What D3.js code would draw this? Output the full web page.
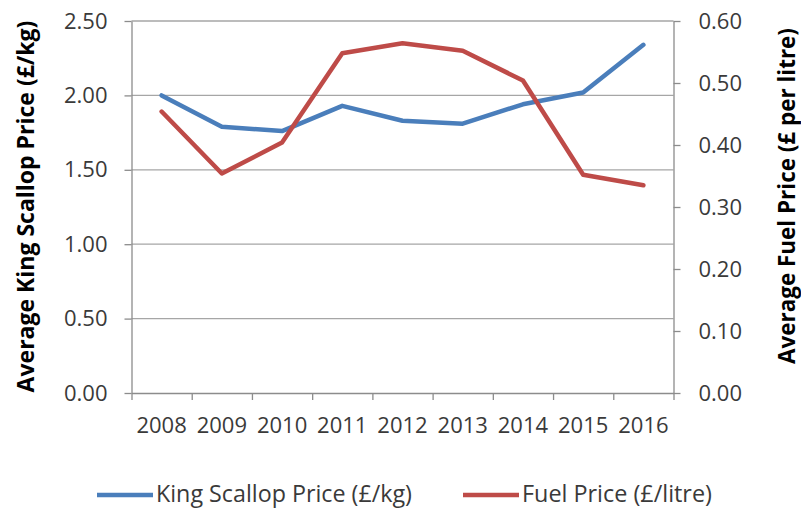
<!DOCTYPE html>
<html>
<head>
<meta charset="utf-8">
<script src="https://cdn.jsdelivr.net/npm/d3@7"></script>
<style>
  html, body { margin: 0; padding: 0; background: #fff; }
  svg { display: block; }
  text { font-family: "Open Sans", "Noto Sans", sans-serif; }
</style>
</head>
<body>
<svg id="chart" width="801" height="509"></svg>
<script>
// Years on the category axis
const years = ["2008", "2009", "2010", "2011", "2012", "2013", "2014", "2015", "2016"];
// Average king scallop price, £/kg (left axis)
const scallopPrice = [2.00, 1.79, 1.76, 1.93, 1.83, 1.81, 1.94, 2.02, 2.34];
// Average fuel price, £ per litre (right axis)
const fuelPrice = [0.454, 0.354, 0.404, 0.548, 0.564, 0.552, 0.504, 0.352, 0.335];
// Tick values for the two value axes
const leftTicks = [0, 0.5, 1.0, 1.5, 2.0, 2.5];
const rightTicks = [0, 0.1, 0.2, 0.3, 0.4, 0.5, 0.6];
// Series names for the legend
const seriesNames = ["King Scallop Price (£/kg)", "Fuel Price (£/litre)"];

const W = 801, H = 509;
const plot = { left: 131.5, right: 673.5, top: 21, bottom: 393 };
const blue = "#4a7ebb", red = "#be4b48";
const gridColor = "#a6a6a6", axisColor = "#8c8c8c", tickText = "#3a3a3a";

const svg = d3.select("#chart");

const x = d3.scaleBand().domain(years).range([plot.left, plot.right]).padding(0);
const xEdges = d3.scaleLinear().domain([0, years.length]).range([plot.left, plot.right]);
const yL = d3.scaleLinear().domain([0, 2.5]).range([plot.bottom, plot.top]);
const yR = d3.scaleLinear().domain([0, 0.6]).range([plot.bottom, plot.top]);

// Horizontal gridlines at the left-axis ticks
svg.append("g")
  .selectAll("line")
  .data(leftTicks.filter(d => d > 0))
  .join("line")
  .attr("x1", plot.left).attr("x2", plot.right)
  .attr("y1", d => yL(d)).attr("y2", d => yL(d))
  .attr("stroke", gridColor).attr("stroke-width", 1.3);

function styleAxis(g) {
  g.selectAll(".domain").attr("stroke", axisColor).attr("stroke-width", 1.3);
  g.selectAll(".tick line").attr("stroke", axisColor).attr("stroke-width", 1.3);
  g.selectAll(".tick text")
    .attr("fill", tickText)
    .style("font-size", "22px")
    .style("font-family", "'Open Sans', sans-serif");
}

// Left value axis
svg.append("g")
  .attr("transform", `translate(${plot.left},0)`)
  .call(d3.axisLeft(yL).tickValues(leftTicks).tickFormat(d3.format(".2f"))
    .tickSize(7).tickSizeOuter(0).tickPadding(17))
  .call(styleAxis);

// Right value axis
svg.append("g")
  .attr("transform", `translate(${plot.right},0)`)
  .call(d3.axisRight(yR).tickValues(rightTicks).tickFormat(d3.format(".2f"))
    .tickSize(7).tickSizeOuter(0).tickPadding(18))
  .call(styleAxis);

// Category boundary ticks along the bottom
svg.append("g")
  .attr("transform", `translate(0,${plot.bottom})`)
  .call(d3.axisBottom(xEdges).tickValues(d3.range(years.length + 1))
    .tickFormat("").tickSize(7).tickSizeOuter(0))
  .call(styleAxis);

// Year labels centred in each category
svg.append("g")
  .attr("transform", `translate(0,${plot.bottom})`)
  .call(d3.axisBottom(x).tickSize(0).tickPadding(24))
  .call(g => g.select(".domain").remove())
  .call(styleAxis);

// Series lines
const lineL = d3.line().x((d, i) => x(years[i]) + x.bandwidth() / 2).y(d => yL(d));
const lineR = d3.line().x((d, i) => x(years[i]) + x.bandwidth() / 2).y(d => yR(d));

svg.append("path").datum(scallopPrice)
  .attr("d", lineL).attr("fill", "none")
  .attr("stroke", blue).attr("stroke-width", 4.5)
  .attr("stroke-linejoin", "round").attr("stroke-linecap", "round");

svg.append("path").datum(fuelPrice)
  .attr("d", lineR).attr("fill", "none")
  .attr("stroke", red).attr("stroke-width", 4.5)
  .attr("stroke-linejoin", "round").attr("stroke-linecap", "round");

// Scale a text's font size so that it spans the given length
function fitText(sel, target, base) {
  sel.style("font-size", base + "px");
  const len = sel.node().getComputedTextLength();
  sel.style("font-size", (base * target / len).toFixed(2) + "px");
  return sel;
}

// Axis titles
const leftTitle = svg.append("text")
  .attr("transform", `translate(25,${(20 + 393) / 2}) rotate(-90)`)
  .attr("text-anchor", "middle").attr("dominant-baseline", "central")
  .attr("font-weight", "bold").attr("fill", "#000")
  .text("Average King Scallop Price (£/kg)");
fitText(leftTitle, 372, 20);

const rightTitle = svg.append("text")
  .attr("transform", `translate(786,${(28 + 364) / 2}) rotate(-90)`)
  .attr("text-anchor", "middle").attr("dominant-baseline", "central")
  .attr("font-weight", "bold").attr("fill", "#000")
  .text("Average Fuel Price (£ per litre)");
fitText(rightTitle, 336, 20);

// Legend
const legendItems = [
  { name: seriesNames[0], color: blue, x0: 97, textW: 256 },
  { name: seriesNames[1], color: red, x0: 463, textW: 190 }
];
const legendY = 495;
legendItems.forEach(item => {
  svg.append("line")
    .attr("x1", item.x0).attr("x2", item.x0 + 56)
    .attr("y1", legendY).attr("y2", legendY)
    .attr("stroke", item.color).attr("stroke-width", 4.5);
  const t = svg.append("text")
    .attr("x", item.x0 + 59).attr("y", legendY + 7)
    .attr("fill", tickText)
    .text(item.name);
  fitText(t, item.textW, 21);
});
</script>
</body>
</html>
